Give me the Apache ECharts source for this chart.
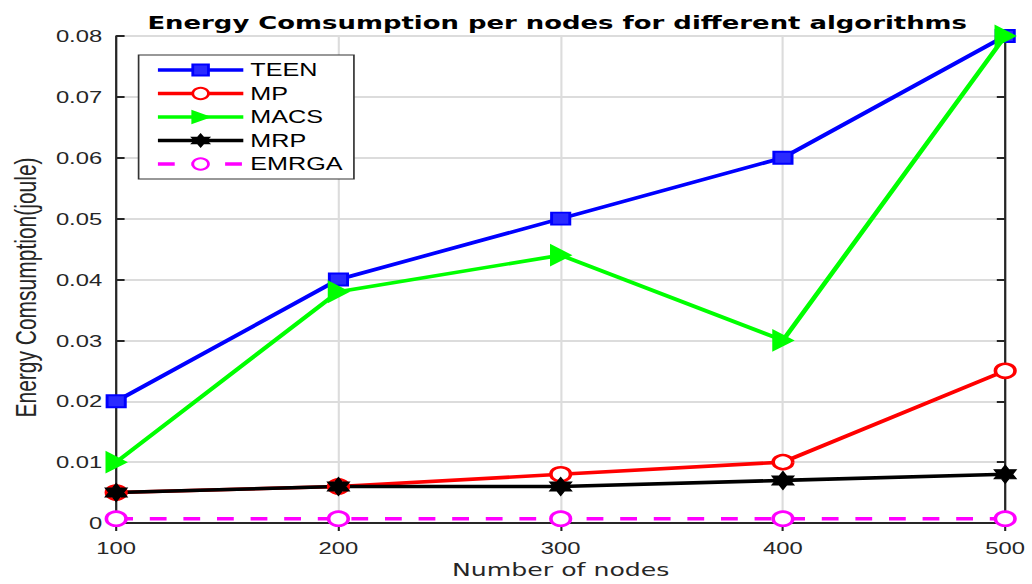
<!DOCTYPE html>
<html>
<head>
<meta charset="utf-8">
<script src="https://cdn.jsdelivr.net/npm/echarts@6/dist/echarts.min.js"></script>
<style>
  html, body { margin: 0; padding: 0; background: #fff; overflow: hidden; }
  /* the reference figure is stretched sideways, so the chart is drawn narrow and widened */
  #chart { width: 737px; height: 584px; transform: scaleX(1.4); transform-origin: 0 0; }
</style>
</head>
<body>
<div id="chart"></div>
<script>
// data
var nodes = [100, 200, 300, 400, 500]
var teen = [0.02, 0.04, 0.05, 0.06, 0.08]
var mp = [0.005, 0.006, 0.008, 0.01, 0.025]
var macs = [0.01, 0.038, 0.044, 0.03, 0.08]
var mrp = [0.005, 0.006, 0.006, 0.007, 0.008]
var emrga = [0.0007, 0.0007, 0.0007, 0.0007, 0.0007]

var hexagram = 'path://M100 0 L71.1 50 L13.4 50 L42.3 100 L13.4 150 L71.1 150 L100 200 L128.9 150 L186.6 150 L157.7 100 L186.6 50 L128.9 50 Z'
var font = 'Liberation Sans, Arial, Helvetica, sans-serif'
var wideFont = 'DejaVu Sans, Verdana, sans-serif'
var axisColor = '#262626'

function pairs(ys) {
  return nodes.map(function (x, i) { return [x, ys[i]] })
}

function line(name, ys, color, symbol, size, opts) {
  var s = {
    name: name,
    type: 'line',
    data: pairs(ys),
    symbol: symbol,
    symbolSize: size,
    showAllSymbol: true,
    lineStyle: { color: color, width: 3.6 },
    itemStyle: { color: '#fff', borderColor: color, borderWidth: 2.6 },
    animation: false
  }
  return Object.assign(s, opts || {})
}

var chart = echarts.init(document.getElementById('chart'), null, { renderer: 'svg' })
chart.setOption({
  backgroundColor: '#fff',
  title: {
    text: 'Energy Comsumption per nodes for different algorithms',
    left: 393,
    textAlign: 'center',
    top: 8,
    textStyle: { fontFamily: wideFont, fontSize: 18.5, fontWeight: 'bold', color: '#000' }
  },
  legend: {
    orient: 'vertical',
    left: 99,
    top: 55,
    width: 149,
    padding: [6, 8, 6, 12],
    itemWidth: 61,
    itemHeight: 14,
    itemGap: 5.5,
    lineStyle: { width: 3.6 },
    borderColor: '#333',
    borderWidth: 1.2,
    backgroundColor: '#fff',
    textStyle: { fontFamily: font, fontSize: 18, color: '#000' },
    data: ['TEEN', 'MP', 'MACS', 'MRP', 'EMRGA']
  },
  grid: { left: 79, right: 19, top: 36, bottom: 61 },
  xAxis: [{
    type: 'value',
    min: 100,
    max: 500,
    interval: 100,
    name: 'Number of nodes',
    nameLocation: 'middle',
    nameGap: 37,
    nameTextStyle: { fontFamily: wideFont, fontSize: 18, color: axisColor },
    axisLine: { lineStyle: { color: axisColor, width: 2 } },
    axisTick: { inside: true, length: 8, lineStyle: { color: axisColor, width: 1.5 } },
    axisLabel: { fontFamily: font, fontSize: 17, color: axisColor, margin: 16 },
    splitLine: { show: true, lineStyle: { color: '#dcdcdc', width: 1.5 } }
  }, {
    type: 'value',
    position: 'top',
    min: 100,
    max: 500,
    interval: 100,
    axisLine: { lineStyle: { color: axisColor, width: 2 } },
    axisTick: { inside: true, length: 8, lineStyle: { color: axisColor, width: 1.5 } },
    axisLabel: { show: false },
    splitLine: { show: false }
  }],
  yAxis: [{
    type: 'value',
    min: 0,
    max: 0.08,
    interval: 0.01,
    name: 'Energy Comsumption(joule)',
    nameLocation: 'middle',
    nameGap: 52,
    nameTextStyle: { fontFamily: font, fontSize: 21, color: axisColor, padding: [0, 16, 0, 0] },
    axisLine: { show: true, lineStyle: { color: axisColor, width: 1.6 } },
    axisTick: { show: true, inside: true, length: 6, lineStyle: { color: axisColor, width: 2 } },
    axisLabel: {
      fontFamily: font, fontSize: 17, color: axisColor, margin: 10,
      formatter: function (v) { return v === 0 ? '0' : v.toFixed(2) }
    },
    splitLine: { show: true, lineStyle: { color: '#dcdcdc', width: 2 } }
  }, {
    type: 'value',
    position: 'right',
    min: 0,
    max: 0.08,
    interval: 0.01,
    axisLine: { show: true, lineStyle: { color: axisColor, width: 1.6 } },
    axisTick: { show: true, inside: true, length: 6, lineStyle: { color: axisColor, width: 2 } },
    axisLabel: { show: false },
    splitLine: { show: false }
  }],
  series: [
    line('TEEN', teen, '#0000ff', 'rect', [13, 12], {
      itemStyle: { color: '#2a2aff', borderColor: '#0000ff', borderWidth: 2 }
    }),
    line('MP', mp, '#ff0000', 'circle', 14),
    line('MACS', macs, '#00ff00', 'triangle', [20, 14], {
      symbolRotate: -90,
      itemStyle: { color: '#00ff00', borderColor: '#00ff00', borderWidth: 1.5 }
    }),
    line('MRP', mrp, '#000000', hexagram, 18, {
      symbolKeepAspect: true,
      itemStyle: { color: '#000', borderColor: '#000', borderWidth: 1 }
    }),
    line('EMRGA', emrga, '#ff00ff', 'circle', 14, {
      lineStyle: { color: '#ff00ff', width: 3.4, type: [12, 12] }
    })
  ]
})
</script>
</body>
</html>
